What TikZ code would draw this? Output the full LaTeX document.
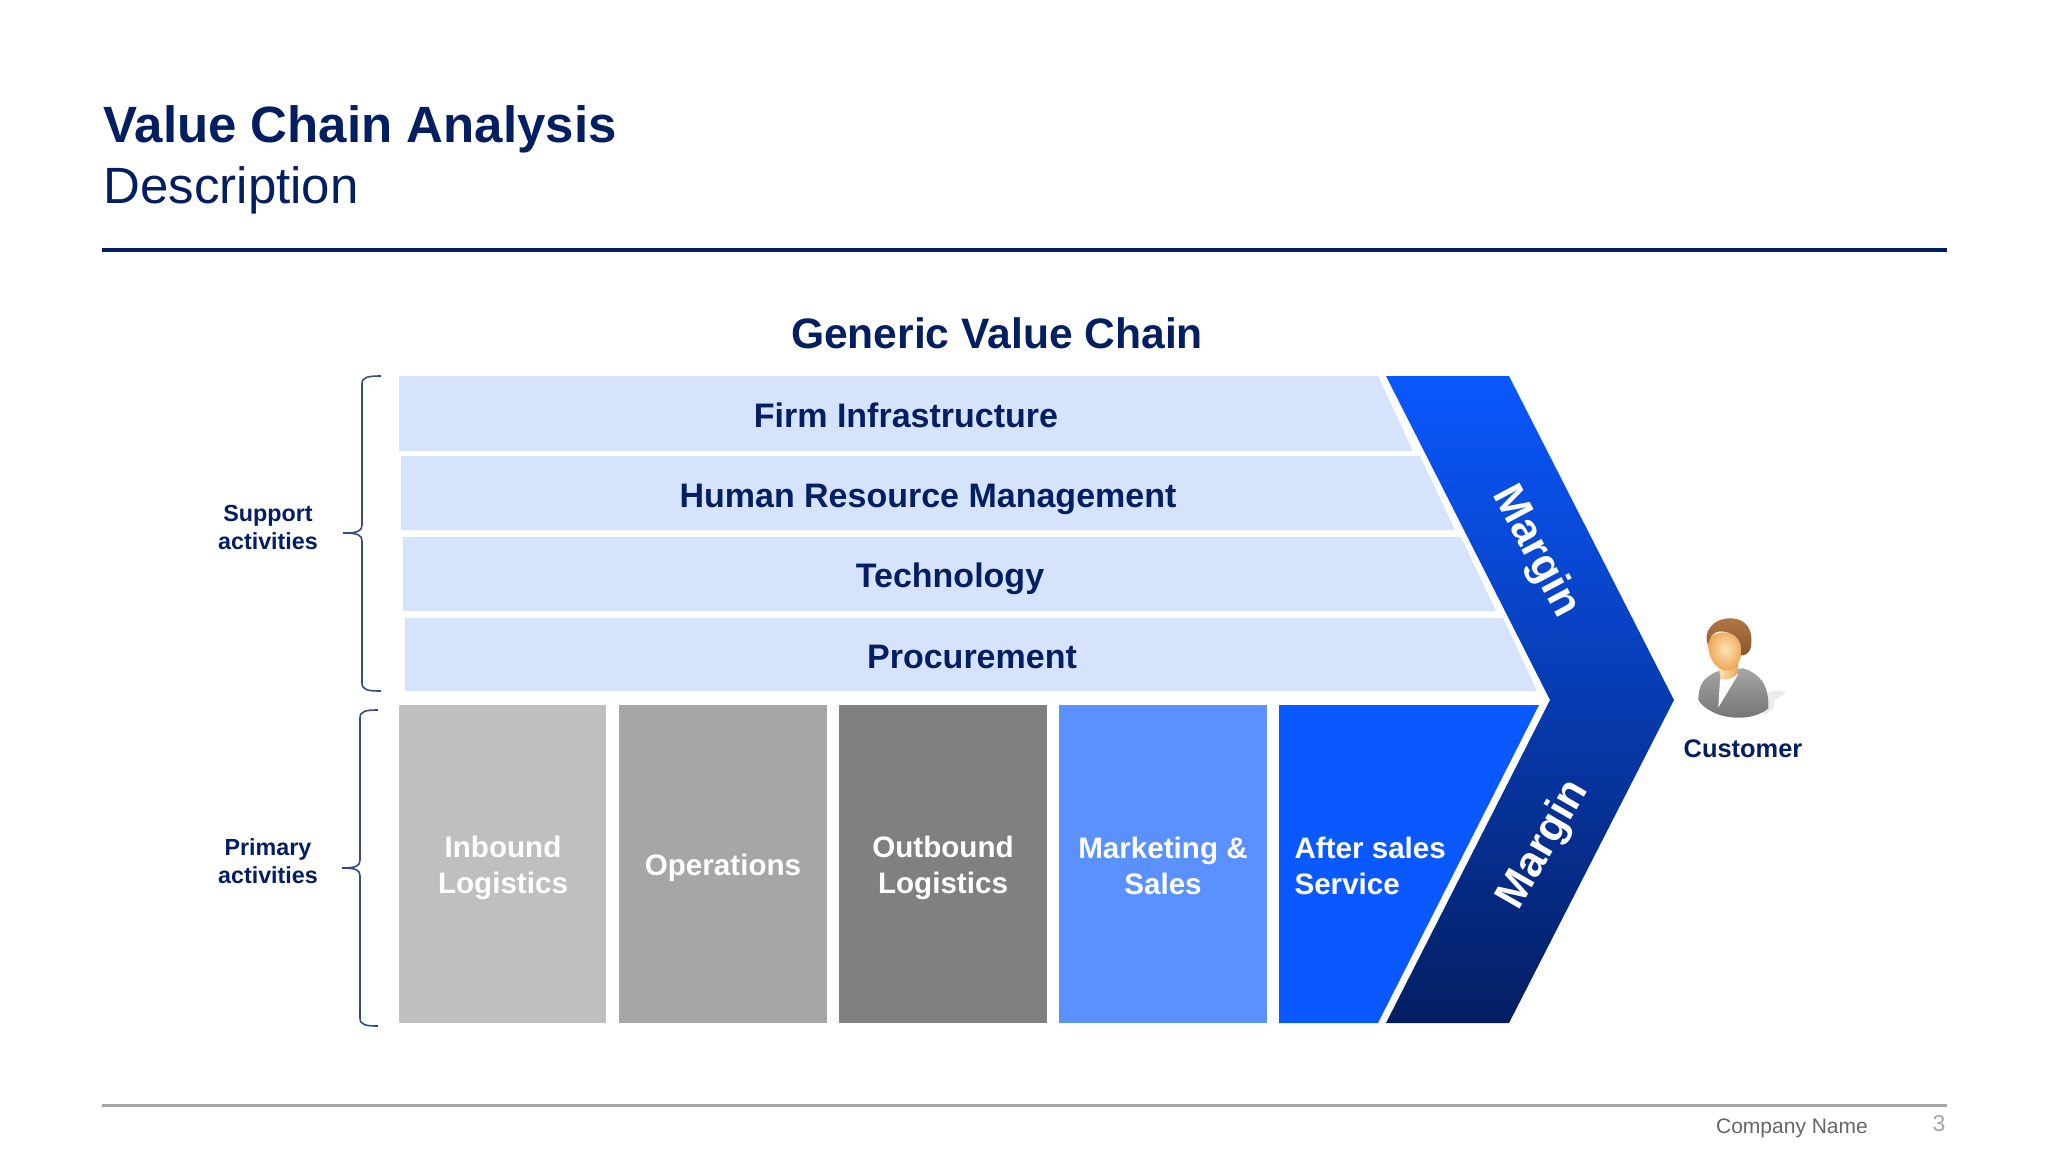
\documentclass[tikz,border=0pt]{standalone}
\usepackage{fontspec}
\setmainfont{Liberation Sans}
\usetikzlibrary{positioning}
\definecolor{navy}{RGB}{4,30,98}
\definecolor{barblue}{RGB}{214,227,252}
\definecolor{brightblue}{RGB}{10,88,255}
\definecolor{midblue}{RGB}{91,145,255}
\definecolor{skinlight}{RGB}{255,228,180}
\definecolor{skindark}{RGB}{236,165,85}
\definecolor{hairlight}{RGB}{178,118,70}
\definecolor{hairdark}{RGB}{135,85,45}
\begin{document}
\begin{tikzpicture}[x=1pt,y=-1pt,
  bar/.style={fill=barblue},
  barlabel/.style={text=navy,font=\fontsize{34}{40}\selectfont\bfseries},
  boxlabel/.style={text=white,font=\fontsize{29.6}{36}\selectfont\bfseries,align=center},
  sidelabel/.style={text=navy,font=\fontsize{23.3}{28}\selectfont\bfseries,align=center},
  marginlabel/.style={text=white,font=\fontsize{43}{46}\selectfont\bfseries},
  brace/.style={draw=navy!80,line width=1.6pt}]
  \useasboundingbox (0,0) rectangle (2048,1152);
  % header
  \node[anchor=west,text=navy,font=\fontsize{51}{60}\selectfont\bfseries] (title) at (100,129) {Value Chain Analysis};
  \node[anchor=west,text=navy,font=\fontsize{51}{60}\selectfont] (subtitle) at (100,190) {Description};
  \draw[navy,line width=4pt] (102,250) -- (1947,250);
  \node[text=navy,font=\fontsize{42.6}{50}\selectfont\bfseries] (chain) at (997,333) {Generic Value Chain};
  % support bars
  \fill[bar] (399,376) -- (1378,376) -- (1413,451) -- (399,451) -- cycle;
  \fill[bar] (401,456) -- (1420,456) -- (1455,530) -- (401,530) -- cycle;
  \fill[bar] (403,537) -- (1461,537) -- (1496,611) -- (403,611) -- cycle;
  \fill[bar] (405,618) -- (1503,618) -- (1537,691) -- (405,691) -- cycle;
  \node[barlabel] (firm) at (906,415) {Firm Infrastructure};
  \node[barlabel] (human) at (928,499) {Human Resource Management};
  \node[barlabel] (tech) at (950,579) {Technology};
  \node[barlabel] (proc) at (972,657) {Procurement};
  % primary boxes
  \fill[black!25] (399,705) rectangle (606,1023);
  \fill[black!35] (619,705) rectangle (827,1023);
  \fill[black!50] (839,705) rectangle (1047,1023);
  \fill[midblue] (1059,705) rectangle (1267,1023);
  \fill[brightblue] (1279,705) -- (1539,705) -- (1378,1023) -- (1279,1023) -- cycle;
  \node[boxlabel] (inbound) at (503,868) {Inbound\\Logistics};
  \node[boxlabel] (ops) at (723,868) {Operations};
  \node[boxlabel] (outbound) at (943,868) {Outbound\\Logistics};
  \node[boxlabel] (mkt) at (1163,866) {Marketing \&\\Sales};
  \node[boxlabel,align=left,anchor=west] (after) at (1291,866) {After sales\\Service};
  % margin
  \shade[top color=brightblue,bottom color=navy] (1386,376) -- (1509,376) -- (1674,700) -- (1509,1023) -- (1386,1023) -- (1550,700) -- cycle;
  \node[marginlabel,rotate=-62] (margin1) at (1535,552) {Margin};
  \node[marginlabel,rotate=60] (margin2) at (1544,845) {Margin};
  % braces
  \draw[brace] (381,376) .. controls (368,376) and (362,377) .. (362,384) -- (362,525)
    .. controls (362,531) and (358,533) .. (343,533) .. controls (358,533) and (362,535) .. (362,541)
    -- (362,683) .. controls (362,690) and (368,691) .. (381,691);
  \draw[brace] (378,710) .. controls (366,710) and (360,711) .. (360,718) -- (360,860)
    .. controls (360,866) and (356,868) .. (342,868) .. controls (356,868) and (360,870) .. (360,876)
    -- (360,1018) .. controls (360,1025) and (366,1026) .. (378,1026);
  % side labels
  \node[sidelabel] (support) at (268,527) {Support\\activities};
  \node[sidelabel] (primary) at (268,861) {Primary\\activities};
  % customer figure, in thirds of a pixel
  \begin{scope}[shift={(1680,600)},x=0.3333pt,y=-0.3333pt]
    \fill[black!8] (235,290) .. controls (270,268) and (300,270) .. (320,278) .. controls (300,290) and (285,295) .. (282,305)
      .. controls (290,320) and (275,335) .. (250,345) -- cycle;
    \shade[top color=black!35,bottom color=black!55] (55,300) .. controls (55,255) and (70,230) .. (118,212) -- (190,205)
      .. controls (235,220) and (268,250) .. (265,325) .. controls (230,355) and (170,360) .. (120,345) .. controls (90,335) and (65,318) .. (55,300) -- cycle;
    \fill[white] (120,238) -- (115,322) -- (175,222) -- cycle;
    \shade[left color=skinlight,right color=skindark] (115,195) -- (175,190) -- (172,222) .. controls (155,238) and (135,240) .. (122,238) -- cycle;
    \shade[inner color=skinlight,outer color=skindark] (84,125) .. controls (95,90) and (160,85) .. (182,125) .. controls (190,165) and (180,205) .. (140,212) .. controls (105,210) and (82,170) .. (84,125) -- cycle;
    \shade[top color=hairlight,bottom color=hairdark] (84,135) .. controls (68,100) and (95,55) .. (150,55)
      .. controls (200,55) and (222,90) .. (212,145) .. controls (207,160) and (192,170) .. (182,165)
      .. controls (188,135) and (178,108) .. (145,98) .. controls (118,90) and (92,92) .. (84,135) -- cycle;
  \end{scope}
  \node[text=navy,font=\fontsize{25.4}{28}\selectfont\bfseries] (customer) at (1743,749) {Customer};
  % footer
  \draw[black!35,line width=3pt] (102,1105) -- (1947,1105);
  \node[text=black!60,font=\fontsize{21}{24}\selectfont] (company) at (1792,1128) {Company Name};
  \node[text=black!35,font=\fontsize{23}{26}\selectfont] (page) at (1939,1124) {3};
\end{tikzpicture}
\end{document}
